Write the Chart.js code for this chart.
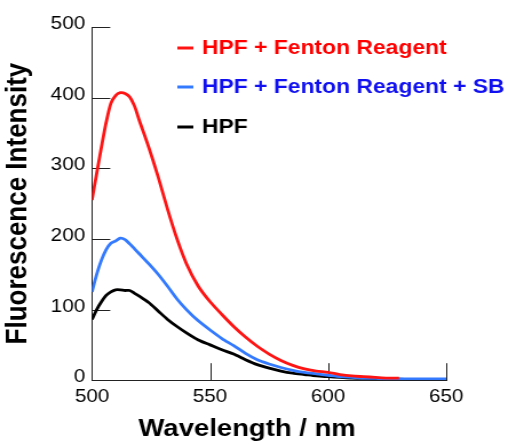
<!DOCTYPE html>
<html>
<head>
  <meta charset="utf-8" />
  <title>HPF fluorescence</title>
  <script src="https://cdn.jsdelivr.net/npm/chart.js@4/dist/chart.umd.min.js"></script>
  <style>
    html, body { margin: 0; padding: 0; background: #fff; }
    /* the original figure is stretched sideways, so draw narrow and scale */
    #wrap { width: 444px; height: 444px; transform: scaleX(1.1441); transform-origin: 0 0; }
  </style>
</head>
<body>
  <div id="wrap"><canvas id="spectra"></canvas></div>
  <script>
    var wavelengths = [500, 502, 504, 506, 508, 510, 512, 514, 516, 518, 520, 524, 528, 532, 536, 540, 545, 550, 555, 560,
                       565, 570, 575, 580, 585, 590, 595, 600, 605, 610, 615, 620, 625, 630, 635, 640, 645, 650];
    var hpfFenton = [255, 293, 330, 365, 392, 403, 407, 406, 401, 388, 368, 330, 288, 242, 200, 165, 133, 111, 93, 76,
                     61, 48, 37, 28, 21, 16, 13, 11, 8, 6, 5, 4, 3, 3];
    var hpfFentonSB = [125, 150, 170, 185, 194, 197, 201, 199, 193, 186, 179, 165, 150, 133, 115, 100, 84, 71, 59, 49,
                       38, 29, 23, 18, 14, 11, 9, 7, 5, 4, 3, 2.5, 2, 2, 2, 2, 2, 2];
    var hpfOnly = [86, 100, 111, 120, 125, 128, 128, 127, 127, 123, 119, 110, 98, 86, 76, 67, 57, 50, 43, 37,
                   29, 22, 17, 13, 10, 8, 6, 5, 4, 3, 2.5, 2, 1.5, 1.5, 1, 1, 1, 1];
    var seriesNames = ["HPF + Fenton Reagent", "HPF + Fenton Reagent + SB", "HPF"];
    var lineColors = ["rgb(255,20,20)", "rgb(51,122,255)", "#000000"];
    var textColors = ["#ff0000", "#1010f0", "#000000"];
    var xTicks = [550, 600, 650];
    var yTicks = [100, 200, 300, 400, 500];

    function toPoints(values) {
      return values.map(function (v, i) { return { x: wavelengths[i], y: v }; });
    }

    // short inward tick marks, like the original plot
    var innerTicks = {
      id: 'innerTicks',
      beforeDatasetsDraw: function (chart) {
        var ctx = chart.ctx, xs = chart.scales.x, ys = chart.scales.y;
        ctx.save();
        ctx.strokeStyle = '#222';
        ctx.lineWidth = 1;
        ctx.beginPath();
        yTicks.forEach(function (v) {
          var py = Math.round(ys.getPixelForValue(v)) + 0.5;
          ctx.moveTo(xs.left, py);
          ctx.lineTo(xs.left + 16, py);
        });
        xTicks.forEach(function (v) {
          var px = Math.round(xs.getPixelForValue(v)) + 0.5;
          ctx.moveTo(px, ys.bottom);
          ctx.lineTo(px, ys.bottom - 17);
        });
        ctx.stroke();
        ctx.restore();
      }
    };

    // legend sitting inside the plot, top right
    var insideLegend = {
      id: 'insideLegend',
      afterDraw: function (chart) {
        var ctx = chart.ctx;
        var rows = [48, 87, 127];
        ctx.save();
        ctx.font = 'bold 20px "Liberation Sans", Arial, sans-serif';
        ctx.textBaseline = 'middle';
        chart.data.datasets.forEach(function (ds, i) {
          ctx.strokeStyle = ds.borderColor;
          ctx.lineWidth = 3;
          ctx.beginPath();
          ctx.moveTo(155, rows[i]);
          ctx.lineTo(169, rows[i]);
          ctx.stroke();
          ctx.fillStyle = textColors[i];
          ctx.fillText(ds.label, 176.5, rows[i]);
        });
        ctx.restore();
      }
    };

    var chartSpectra = document.getElementById("spectra").getContext("2d");
    var spectra = new Chart(chartSpectra, {
      type: 'line',
      data: {
        datasets: [
          { label: seriesNames[0], data: toPoints(hpfFenton), borderColor: lineColors[0] },
          { label: seriesNames[1], data: toPoints(hpfFentonSB), borderColor: lineColors[1] },
          { label: seriesNames[2], data: toPoints(hpfOnly), borderColor: lineColors[2] }
        ]
      },
      options: {
        responsive: true,
        maintainAspectRatio: false,
        animation: false,
        layout: { padding: { top: 27, right: 12, left: 0, bottom: 0 } },
        elements: {
          point: { radius: 0 },
          line: { borderWidth: 2.8, tension: 0.25 }
        },
        plugins: {
          legend: { display: false },
          tooltip: { enabled: false },
          title: {
            display: true,
            position: 'bottom',
            text: 'Wavelength / nm',
            color: '#000',
            font: { family: '"Liberation Sans", Arial, sans-serif', size: 24, weight: 'bold', lineHeight: 1.2 },
            padding: 0
          }
        },
        scales: {
          x: {
            type: 'linear',
            min: 500,
            max: 650,
            afterFit: function (scale) { scale.height = 35; },
            grid: { display: false, drawTicks: false },
            border: { display: true, color: '#222', width: 1 },
            ticks: {
              stepSize: 50,
              padding: 6,
              color: '#000',
              maxRotation: 0,
              font: { family: '"Liberation Sans", Arial, sans-serif', size: 18 }
            }
          },
          y: {
            min: 0,
            max: 500,
            afterFit: function (scale) { scale.width = 80.4; },
            grid: { display: false, drawTicks: false },
            border: { display: true, color: '#222', width: 1 },
            title: {
              display: true,
              text: 'Fluorescence Intensity',
              color: '#000',
              font: { family: '"Liberation Sans", Arial, sans-serif', size: 26, weight: 'bold', lineHeight: 1.2 },
              padding: { top: 0, bottom: 0 }
            },
            ticks: {
              stepSize: 100,
              padding: 6,
              labelOffset: -3,
              color: '#000',
              font: { family: '"Liberation Sans", Arial, sans-serif', size: 18 }
            }
          },
          // empty right-hand axis, only there to keep the white margin on the right
          yRight: {
            position: 'right',
            min: 0,
            max: 500,
            afterFit: function (scale) { scale.width = 42; },
            grid: { display: false, drawTicks: false },
            border: { display: false },
            ticks: { display: false }
          }
        }
      },
      plugins: [innerTicks, insideLegend]
    });
  </script>
</body>
</html>
